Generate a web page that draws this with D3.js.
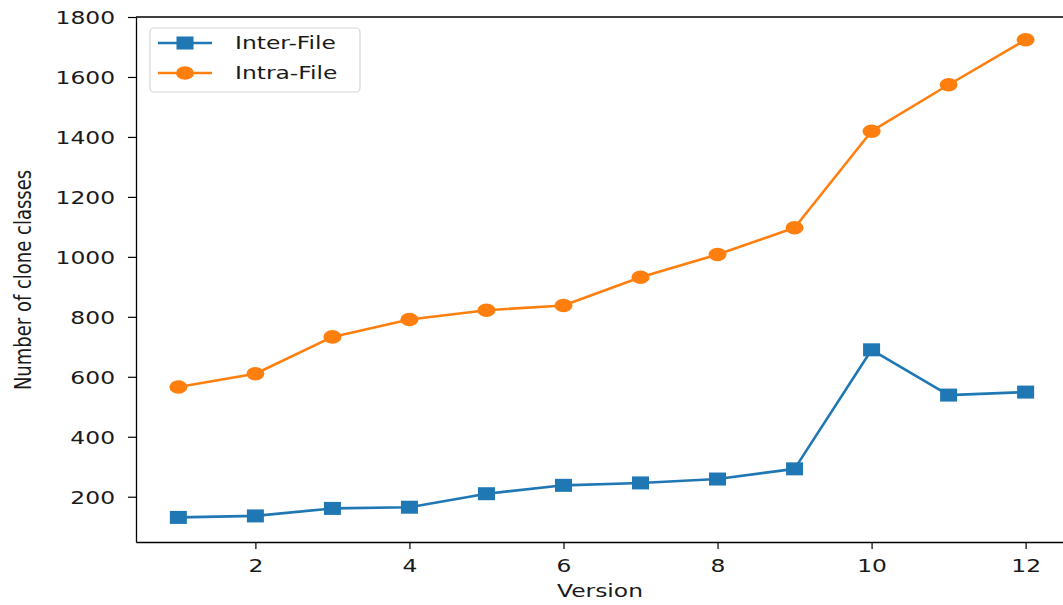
<!DOCTYPE html>
<html>
<head>
<meta charset="utf-8">
<script src="https://cdn.jsdelivr.net/npm/d3@7"></script>
<style>
  body { margin: 0; background: #fff; }
  text { font-family: "DejaVu Sans", sans-serif; fill: #1a1a1a; }
</style>
</head>
<body>
<svg id="chart" width="1063" height="605"></svg>
<script>
// data
const versions = [1, 2, 3, 4, 5, 6, 7, 8, 9, 10, 11, 12];
const interFile = [131, 136, 161, 165, 210, 238, 246, 259, 293, 690, 539, 549];
const intraFile = [566, 610, 733, 791, 822, 838, 932, 1008, 1097, 1419, 1574, 1724];
const xTicks = [2, 4, 6, 8, 10, 12];
const yTicks = [200, 400, 600, 800, 1000, 1200, 1400, 1600, 1800];

const svg = d3.select("#chart");
const sx = 1.3; // picture is stretched sideways
const plotLeft = 136, plotRight = 1068, plotTop = 17, plotBottom = 542;

const x = d3.scaleLinear().domain([0.45, 12.55]).range([plotLeft, plotRight]);
const y = d3.scaleLinear().domain([49, 1800]).range([plotBottom, plotTop]);

// top spine (right spine falls outside the picture)
svg.append("line").attr("x1", plotLeft).attr("x2", 1063).attr("y1", plotTop).attr("y2", plotTop)
    .attr("stroke", "#000").attr("stroke-width", 1.3);

const xAxis = svg.append("g")
    .attr("transform", `translate(0,${plotBottom})`)
    .call(d3.axisBottom(x).tickValues(xTicks).tickFormat(d3.format("d")).tickSize(7).tickSizeOuter(0));
xAxis.select(".domain").attr("stroke", "#000").attr("stroke-width", 1.3);
xAxis.selectAll(".tick line").attr("stroke", "#000").attr("stroke-width", 1.2);
xAxis.selectAll(".tick text")
    .attr("y", 30).attr("dy", 0)
    .attr("transform", `scale(${sx},1)`);

const yAxis = svg.append("g")
    .attr("transform", `translate(${plotLeft},0)`)
    .call(d3.axisLeft(y).tickValues(yTicks).tickFormat(d3.format("d")).tickSize(8).tickSizeOuter(0));
yAxis.select(".domain").attr("stroke", "#000").attr("stroke-width", 1.3);
yAxis.selectAll(".tick line").attr("stroke", "#000").attr("stroke-width", 1.2);
yAxis.selectAll(".tick text")
    .attr("x", -21 / sx).attr("dy", "0.36em")
    .attr("transform", `scale(${sx},1)`);

svg.selectAll(".tick text")
    .attr("font-size", 18)
    .attr("font-family", "DejaVu Sans")
    .attr("fill", "#1a1a1a");

// axis labels
svg.append("text")
    .attr("transform", `translate(600,597) scale(${sx},1)`)
    .attr("text-anchor", "middle")
    .attr("font-size", 18)
    .text("Version");

svg.append("text")
    .attr("transform", `translate(31,280) scale(${sx},1) rotate(-90)`)
    .attr("text-anchor", "middle")
    .attr("font-size", 18)
    .text("Number of clone classes");

const series = [
    { name: "Inter-File", values: interFile, color: "#1f77b4", marker: "square" },
    { name: "Intra-File", values: intraFile, color: "#ff7f0e", marker: "circle" }
];

function drawMarker(g, shape, color) {
    if (shape === "square") {
        g.append("rect").attr("x", -8.5).attr("y", -6.5).attr("width", 17).attr("height", 13)
            .attr("fill", color);
    } else {
        g.append("ellipse").attr("rx", 9).attr("ry", 6.8).attr("fill", color);
    }
}

series.forEach(s => {
    const line = d3.line().x((d, i) => x(versions[i])).y(d => y(d));
    svg.append("path").datum(s.values)
        .attr("d", line)
        .attr("fill", "none")
        .attr("stroke", s.color)
        .attr("stroke-width", 2.6)
        .attr("stroke-linejoin", "round");

    svg.selectAll(null).data(s.values).enter().append("g")
        .attr("transform", (d, i) => `translate(${x(versions[i])},${y(d)})`)
        .each(function () { drawMarker(d3.select(this), s.marker, s.color); });
});

// legend
const legend = svg.append("g");
legend.append("rect")
    .attr("x", 150).attr("y", 28).attr("width", 210).attr("height", 64)
    .attr("rx", 4).attr("fill", "#fff").attr("fill-opacity", 0.8)
    .attr("stroke", "#d6d6d6").attr("stroke-width", 1.2);

series.forEach((s, i) => {
    const ly = 43 + i * 30;
    legend.append("line").attr("x1", 158).attr("x2", 212).attr("y1", ly).attr("y2", ly)
        .attr("stroke", s.color).attr("stroke-width", 2.6);
    const m = legend.append("g").attr("transform", `translate(185,${ly})`);
    drawMarker(m, s.marker, s.color);
    legend.append("text")
        .attr("transform", `translate(235,${ly}) scale(${sx},1)`)
        .attr("dy", "0.36em")
        .attr("font-size", 18)
        .text(s.name);
});
</script>
</body>
</html>
